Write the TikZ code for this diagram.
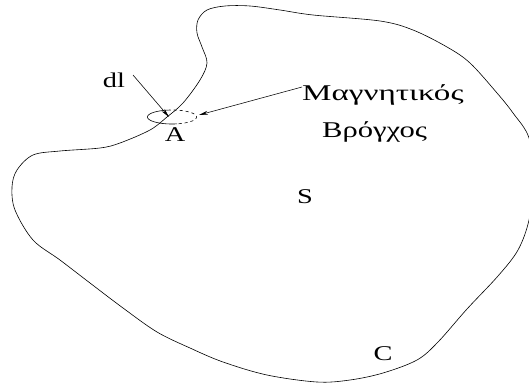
\documentclass[tikz,border=0pt]{standalone}
\usepackage{fontspec}
\setmainfont{Liberation Serif}
\usetikzlibrary{arrows.meta}
\begin{document}
\begin{tikzpicture}[x=1pt,y=-1pt,
  thinline/.style={line width=0.6pt},
  ptr/.style={line width=0.55pt,-{Stealth[length=9pt,width=3.8pt]}},
  lbl/.style={inner sep=0pt,anchor=base,font=\fontsize{21}{24}\selectfont},
  grk/.style={inner sep=0pt,anchor=base west,font=\fontsize{22.5}{26}\selectfont}]
\useasboundingbox (0,0) rectangle (529,385);
\begin{scope}
\clip (0,0) rectangle (529,385);
\draw[thinline] plot[smooth cycle, tension=0.55] coordinates {
 (207,10) (225,6) (250,6) (280,10) (313,15) (380,21) (413,30) (447,47)
 (470,63) (497,93) (513,113) (529,138) (534,180) (529,220) (518,250)
 (498,276) (467,309) (438,342) (417,360) (383,373) (350,380) (317,382)
 (267,375) (223,362) (190,348) (157,332) (123,308) (90,283) (60,260)
 (33,240) (15,210) (12,187) (17,170) (33,155) (60,151) (100,148)
 (120,143) (150,130) (167,117) (183,103) (200,80) (207,63) (202,47)
 (197,33) (198,20)};
\end{scope}
% small loop at A
\draw[thinline] plot[domain=78:260,samples=50] ({172+24.5*cos(\x)},{117+7*sin(\x)});
\draw[thinline,dashed] plot[domain=260:438,samples=50] ({172+24.5*cos(\x)},{117+7*sin(\x)});
% labels
\node[lbl] (dl) at (114,88) {\scalebox{1.35}[1]{dl}};
\node[lbl] (A) at (175,141) {\scalebox{1.35}[1]{A}};
\node[lbl] (S) at (305,203) {\scalebox{1.35}[1]{S}};
\node[lbl] (C) at (383,360) {\scalebox{1.35}[1]{C}};
\node[grk] (mag) at (302,100) {\scalebox{1.47}[1]{Μαγνητικός}};
\node[grk] (bro) at (322,137) {\scalebox{1.36}[1]{Βρόγχος}};
% pointers
\coordinate (dltail) at (133,75);
\coordinate (dlhead) at (169,117);
\coordinate (magtail) at (302,87);
\coordinate (loop) at (199,115);
\draw[ptr] (dltail) -- (dlhead);
\draw[ptr] (magtail) -- (loop);
\end{tikzpicture}
\end{document}
